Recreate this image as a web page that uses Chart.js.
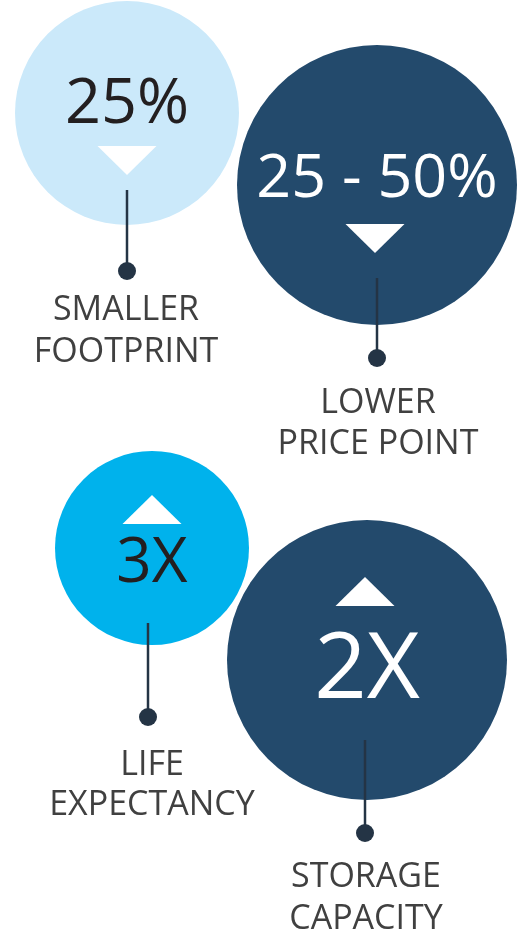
<!DOCTYPE html>
<html>
<head>
<meta charset="utf-8">
<script src="https://cdn.jsdelivr.net/npm/chart.js@4"></script>
<style>
  html, body { margin: 0; padding: 0; background: #ffffff; }
  #wrap { width: 526px; height: 935px; position: relative; }
</style>
</head>
<body>
<div id="wrap"><canvas id="chart"></canvas></div>
<script>
// Metric values shown in the bubbles
const metricText = ['25%', '25 - 50%', '3X', '2X'];
const captionTop = ['SMALLER', 'LOWER', 'LIFE', 'STORAGE'];
const captionBottom = ['FOOTPRINT', 'PRICE POINT', 'EXPECTANCY', 'CAPACITY'];
const direction = ['down', 'down', 'up', 'up'];

// Bubble layout (x, y in page units, r in px)
const bubbleX = [127, 377, 152, 367];
const bubbleY = [113, 185, 548, 660];
const bubbleR = [112, 140, 97, 140];

const bubbleColors = ['#cbe9fa', '#234a6c', '#00b2ec', '#234a6c'];
const textColors = ['#231f20', '#ffffff', '#231f20', '#ffffff'];

// Build the bubble dataset
const points = bubbleX.map((x, i) => ({ x: x, y: bubbleY[i], r: bubbleR[i] }));

// Decorations: value text, arrows, stems, captions
const decor = {
  id: 'decor',
  afterDatasetsDraw(chart) {
    const ctx = chart.ctx;
    const xs = chart.scales.x;
    const ys = chart.scales.y;
    const fontSizes = [63, 61, 62, 92];
    const textBase = [123, 197, 582, 698];
    const arrowX = [127, 375, 152, 365];
    const arrowTop = [146, 224, 495, 577];
    const stemX = [127, 377, 148, 365];
    const stemFrom = [190, 278, 623, 740];
    const stemTo = [271, 358, 717, 833];
    const capX = [126, 378, 152, 366];
    const capBase1 = [320, 413, 775, 887];
    const capBase2 = [362, 454, 815, 929];

    ctx.save();
    metricText.forEach((txt, i) => {
      const cx = xs.getPixelForValue(bubbleX[i]);

      // value
      ctx.fillStyle = textColors[i];
      ctx.font = fontSizes[i] + 'px "Open Sans", sans-serif';
      ctx.textAlign = 'center';
      ctx.textBaseline = 'alphabetic';
      ctx.fillText(txt, cx, ys.getPixelForValue(textBase[i]));

      // arrow
      const ax = xs.getPixelForValue(arrowX[i]);
      const top = ys.getPixelForValue(arrowTop[i]);
      const bottom = ys.getPixelForValue(arrowTop[i] + 29);
      ctx.fillStyle = '#ffffff';
      ctx.beginPath();
      if (direction[i] === 'down') {
        ctx.moveTo(ax - 29.5, top);
        ctx.lineTo(ax + 29.5, top);
        ctx.lineTo(ax, bottom);
      } else {
        ctx.moveTo(ax, top);
        ctx.lineTo(ax + 29.5, bottom);
        ctx.lineTo(ax - 29.5, bottom);
      }
      ctx.closePath();
      ctx.fill();

      // stem and dot
      const sx = xs.getPixelForValue(stemX[i]);
      ctx.strokeStyle = '#243445';
      ctx.lineWidth = 2.5;
      ctx.beginPath();
      ctx.moveTo(sx, ys.getPixelForValue(stemFrom[i]));
      ctx.lineTo(sx, ys.getPixelForValue(stemTo[i]));
      ctx.stroke();
      ctx.fillStyle = '#243445';
      ctx.beginPath();
      ctx.arc(sx, ys.getPixelForValue(stemTo[i]), 9, 0, Math.PI * 2);
      ctx.fill();

      // captions
      ctx.fillStyle = '#404040';
      ctx.font = '34px "Open Sans", sans-serif';
      const tx = xs.getPixelForValue(capX[i]);
      ctx.fillText(captionTop[i], tx, ys.getPixelForValue(capBase1[i]));
      ctx.fillText(captionBottom[i], tx, ys.getPixelForValue(capBase2[i]));
    });
    ctx.restore();
  }
};

new Chart(document.getElementById('chart'), {
  type: 'bubble',
  data: {
    datasets: [{
      data: points,
      backgroundColor: bubbleColors,
      borderWidth: 0,
      hoverRadius: 0,
      clip: false
    }]
  },
  options: {
    responsive: true,
    maintainAspectRatio: false,
    animation: false,
    events: [],
    layout: { padding: 0, autoPadding: false },
    plugins: {
      legend: { display: false },
      tooltip: { enabled: false }
    },
    scales: {
      x: { type: 'linear', min: 0, max: 526, display: false },
      y: { type: 'linear', min: 0, max: 935, reverse: true, display: false }
    }
  },
  plugins: [decor]
});
</script>
</body>
</html>
